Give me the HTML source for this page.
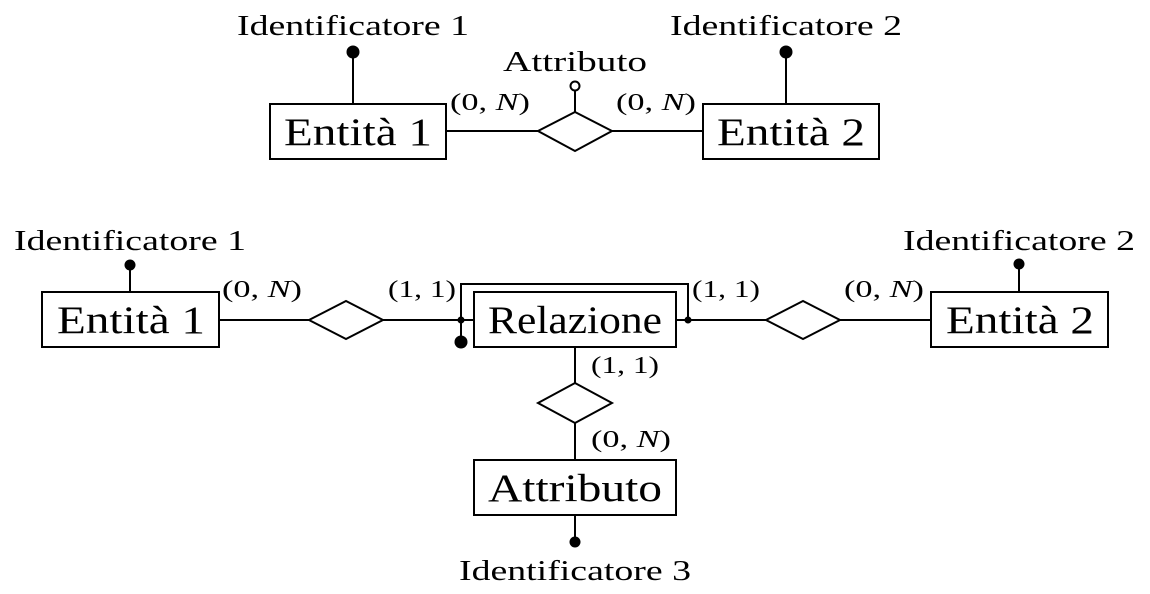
<!DOCTYPE html>
<html><head><meta charset="utf-8"><style>
html,body{margin:0;padding:0;background:#fff;}
svg{display:block;font-family:"Liberation Serif",serif;}
.b{font-size:39px;text-anchor:middle;}
.i{font-size:28px;text-anchor:middle;}
.l{font-size:24px;}
</style></head><body>
<svg width="1150" height="594" viewBox="0 0 1150 594" stroke="#000" stroke-width="2" fill="none">
<g>
<line x1="446" y1="131" x2="538" y2="131"/><line x1="612" y1="131" x2="703" y2="131"/>
<rect x="270" y="104" width="176" height="55" fill="#fff"/>
<rect x="703" y="104" width="176" height="55" fill="#fff"/>
<polygon points="538,131 575,112 612,131 575,151" fill="#fff"/>
<line x1="575" y1="112" x2="575" y2="90"/><circle cx="575" cy="86" r="4.5" fill="#fff"/>
<line x1="353" y1="104" x2="353" y2="52"/><circle cx="353" cy="52" r="5.5" fill="#000"/>
<line x1="786" y1="104" x2="786" y2="52"/><circle cx="786" cy="52" r="5.5" fill="#000"/>
<g fill="#000" stroke="none">
<text class="b" x="358" y="145" textLength="148" lengthAdjust="spacingAndGlyphs">Entità 1</text>
<text class="b" x="791" y="145" textLength="148" lengthAdjust="spacingAndGlyphs">Entità 2</text>
<text class="i" x="353" y="35" textLength="232" lengthAdjust="spacingAndGlyphs">Identificatore 1</text>
<text class="i" x="786" y="35" textLength="232" lengthAdjust="spacingAndGlyphs">Identificatore 2</text>
<text class="i" x="575" y="71" textLength="144" lengthAdjust="spacingAndGlyphs">Attributo</text>
<text class="l" x="450" y="110" textLength="80" lengthAdjust="spacingAndGlyphs">(0, <tspan font-style="italic">N</tspan>)</text>
<text class="l" x="616" y="110" textLength="80" lengthAdjust="spacingAndGlyphs">(0, <tspan font-style="italic">N</tspan>)</text>
</g></g>
<g>
<line x1="219" y1="320" x2="474" y2="320"/><line x1="676" y1="320" x2="931" y2="320"/>
<line x1="575" y1="347" x2="575" y2="460"/><line x1="575" y1="515" x2="575" y2="542"/>
<polyline points="461,342 461,284 688,284 688,320"/>
<rect x="42" y="292" width="177" height="55" fill="#fff"/>
<rect x="474" y="292" width="202" height="55" fill="#fff"/>
<rect x="931" y="292" width="177" height="55" fill="#fff"/>
<rect x="474" y="460" width="202" height="55" fill="#fff"/>
<polygon points="309,320 346,301 383,320 346,339" fill="#fff"/>
<polygon points="766,320 803,301 840,320 803,339" fill="#fff"/>
<polygon points="538,403 575,383 612,403 575,423" fill="#fff"/>
<g fill="#000" stroke="none">
<circle cx="461" cy="320" r="3.5"/>
<circle cx="688" cy="320" r="3.5"/>
<circle cx="461" cy="342" r="6.5"/>
<circle cx="130" cy="265" r="5.5"/>
<circle cx="1019" cy="264" r="5.5"/>
<circle cx="575" cy="542" r="5.5"/>
</g>
<line x1="130" y1="265" x2="130" y2="292"/><line x1="1019" y1="264" x2="1019" y2="292"/>
<g fill="#000" stroke="none">
<text class="b" x="131" y="333" textLength="148" lengthAdjust="spacingAndGlyphs">Entità 1</text>
<text class="b" x="575" y="333" textLength="174" lengthAdjust="spacingAndGlyphs">Relazione</text>
<text class="b" x="1020" y="333" textLength="148" lengthAdjust="spacingAndGlyphs">Entità 2</text>
<text class="b" x="575" y="501" textLength="174" lengthAdjust="spacingAndGlyphs">Attributo</text>
<text class="i" x="130" y="250" textLength="232" lengthAdjust="spacingAndGlyphs">Identificatore 1</text>
<text class="i" x="1019" y="250" textLength="232" lengthAdjust="spacingAndGlyphs">Identificatore 2</text>
<text class="i" x="575" y="580" textLength="232" lengthAdjust="spacingAndGlyphs">Identificatore 3</text>
<text class="l" x="222" y="297" textLength="80" lengthAdjust="spacingAndGlyphs">(0, <tspan font-style="italic">N</tspan>)</text>
<text class="l" x="388" y="297" textLength="68" lengthAdjust="spacingAndGlyphs">(1, 1)</text>
<text class="l" x="692" y="297" textLength="68" lengthAdjust="spacingAndGlyphs">(1, 1)</text>
<text class="l" x="844" y="297" textLength="80" lengthAdjust="spacingAndGlyphs">(0, <tspan font-style="italic">N</tspan>)</text>
<text class="l" x="591" y="373" textLength="68" lengthAdjust="spacingAndGlyphs">(1, 1)</text>
<text class="l" x="591" y="447" textLength="80" lengthAdjust="spacingAndGlyphs">(0, <tspan font-style="italic">N</tspan>)</text>
</g></g>
</svg>
</body></html>
